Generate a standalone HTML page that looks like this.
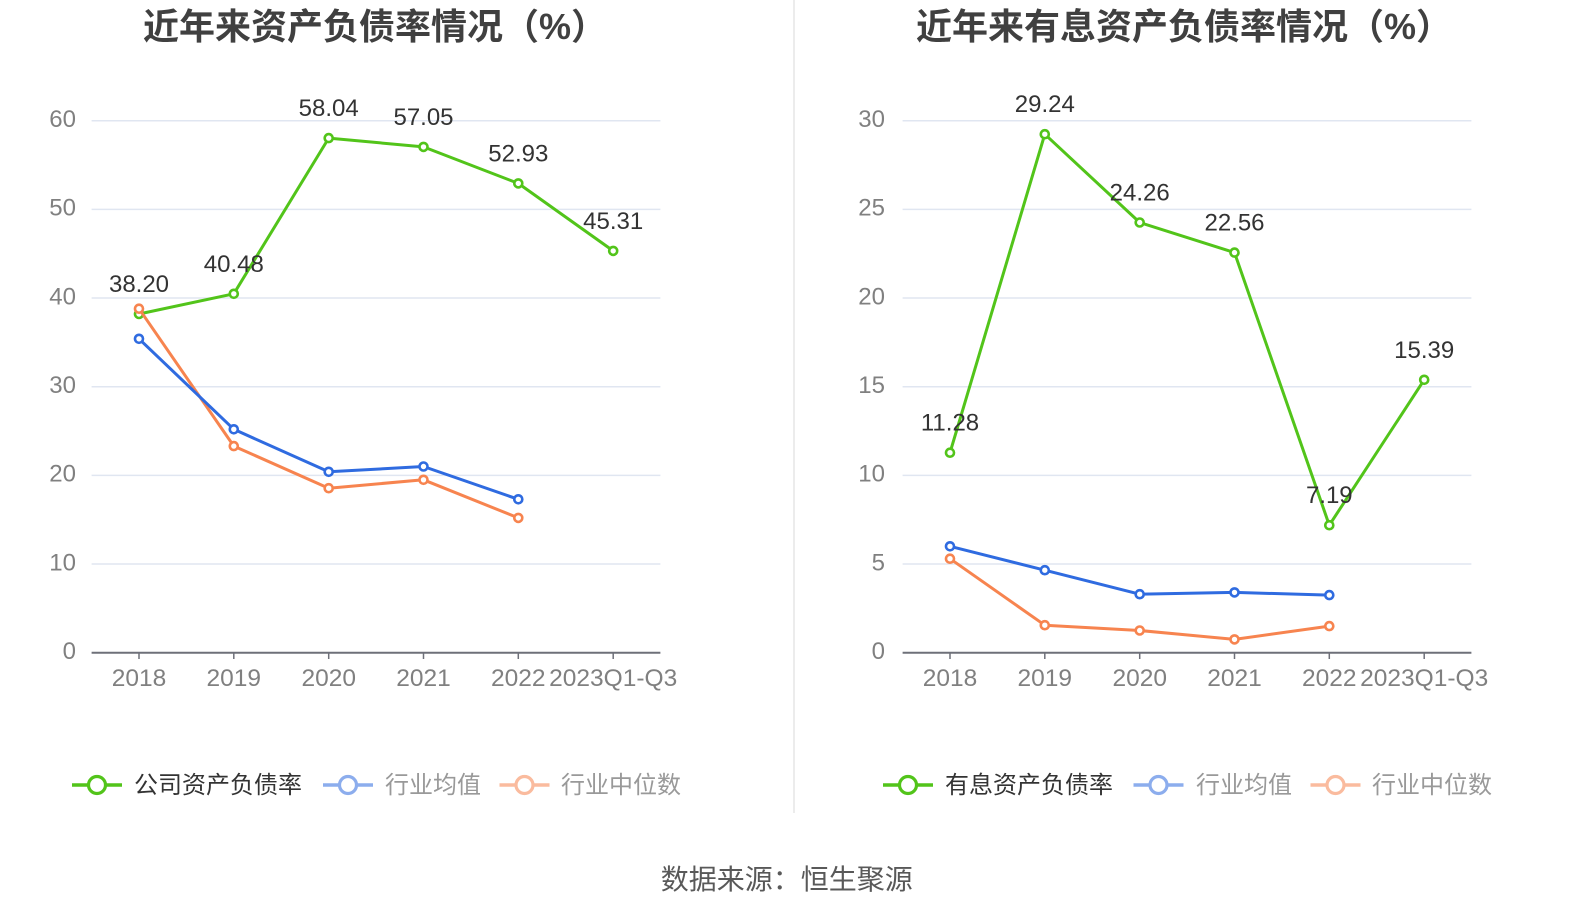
<!DOCTYPE html>
<html>
<head>
<meta charset="utf-8">
<style>
  html, body { margin: 0; padding: 0; background: #ffffff; }
  body { width: 1574px; height: 918px; overflow: hidden; }
  svg { display: block; }
  .t { font-family: "Liberation Sans", "Noto Sans CJK SC", sans-serif; font-weight: 700; font-size: 36px; fill: #404040; }
  .ax { font-family: "Liberation Sans", sans-serif; font-size: 24px; fill: #808080; }
  .axx { font-family: "Liberation Sans", sans-serif; font-size: 24.5px; fill: #808080; }
  .dl { font-family: "Liberation Sans", sans-serif; font-size: 24px; fill: #333333; }
  .lg { font-family: "Liberation Sans", "Noto Sans CJK SC", sans-serif; font-size: 24px; }
  .src { font-family: "Liberation Sans", "Noto Sans CJK SC", sans-serif; font-size: 28px; fill: #595959; }
</style>
</head>
<body>
<svg width="1574" height="918" viewBox="0 0 1574 918" xmlns="http://www.w3.org/2000/svg">
  <!-- divider -->
  <line x1="794" y1="0" x2="794" y2="813" stroke="#ececec" stroke-width="2"/>

  <!-- titles -->
  <text class="t" x="143" y="39">近年来资产负债率情况（%）</text>
  <text class="t" x="916" y="39">近年来有息资产负债率情况（%）</text>

  <!-- ============ LEFT CHART ============ -->
  <g stroke="#e0e6f1" stroke-width="1.5">
    <line x1="91.6" y1="120.7" x2="660.4" y2="120.7"/>
    <line x1="91.6" y1="209.4" x2="660.4" y2="209.4"/>
    <line x1="91.6" y1="298.0" x2="660.4" y2="298.0"/>
    <line x1="91.6" y1="386.7" x2="660.4" y2="386.7"/>
    <line x1="91.6" y1="475.4" x2="660.4" y2="475.4"/>
    <line x1="91.6" y1="564.0" x2="660.4" y2="564.0"/>
  </g>
  <line x1="91.6" y1="652.7" x2="660.4" y2="652.7" stroke="#6e7079" stroke-width="2"/>
  <g stroke="#6e7079" stroke-width="1.5">
    <line x1="139" y1="652.7" x2="139" y2="659"/>
    <line x1="233.8" y1="652.7" x2="233.8" y2="659"/>
    <line x1="328.7" y1="652.7" x2="328.7" y2="659"/>
    <line x1="423.5" y1="652.7" x2="423.5" y2="659"/>
    <line x1="518.3" y1="652.7" x2="518.3" y2="659"/>
    <line x1="613.2" y1="652.7" x2="613.2" y2="659"/>
  </g>
  <g class="ax" text-anchor="end">
    <text x="76" y="127">60</text>
    <text x="76" y="215.7">50</text>
    <text x="76" y="304.3">40</text>
    <text x="76" y="393">30</text>
    <text x="76" y="481.7">20</text>
    <text x="76" y="570.3">10</text>
    <text x="76" y="659">0</text>
  </g>
  <g class="axx" text-anchor="middle">
    <text x="139" y="686">2018</text>
    <text x="233.8" y="686">2019</text>
    <text x="328.7" y="686">2020</text>
    <text x="423.5" y="686">2021</text>
    <text x="518.3" y="686">2022</text>
    <text x="613.2" y="686">2023Q1-Q3</text>
  </g>

  <!-- left series -->
  <polyline fill="none" stroke="#52c41a" stroke-width="3" stroke-linejoin="round"
    points="139,314.0 233.8,293.8 328.7,138.1 423.5,146.9 518.3,183.4 613.2,250.9"/>
  <g fill="#fff" stroke="#52c41a" stroke-width="2.6">
    <circle cx="139" cy="314.0" r="4"/>
    <circle cx="233.8" cy="293.8" r="4"/>
    <circle cx="328.7" cy="138.1" r="4"/>
    <circle cx="423.5" cy="146.9" r="4"/>
    <circle cx="518.3" cy="183.4" r="4"/>
    <circle cx="613.2" cy="250.9" r="4"/>
  </g>
  <polyline fill="none" stroke="#f7844f" stroke-width="3" stroke-linejoin="round"
    points="139,308.7 233.8,446.1 328.7,488.2 423.5,479.8 518.3,517.9"/>
  <g fill="#fff" stroke="#f7844f" stroke-width="2.6">
    <circle cx="139" cy="308.7" r="4"/>
    <circle cx="233.8" cy="446.1" r="4"/>
    <circle cx="328.7" cy="488.2" r="4"/>
    <circle cx="423.5" cy="479.8" r="4"/>
    <circle cx="518.3" cy="517.9" r="4"/>
  </g>
  <polyline fill="none" stroke="#2f6be0" stroke-width="3" stroke-linejoin="round"
    points="139,338.8 233.8,429.3 328.7,471.8 423.5,466.5 518.3,499.3"/>
  <g fill="#fff" stroke="#2f6be0" stroke-width="2.6">
    <circle cx="139" cy="338.8" r="4"/>
    <circle cx="233.8" cy="429.3" r="4"/>
    <circle cx="328.7" cy="471.8" r="4"/>
    <circle cx="423.5" cy="466.5" r="4"/>
    <circle cx="518.3" cy="499.3" r="4"/>
  </g>
  <g class="dl" text-anchor="middle">
    <text x="139" y="292">38.20</text>
    <text x="233.8" y="271.8">40.48</text>
    <text x="328.7" y="116.1">58.04</text>
    <text x="423.5" y="124.9">57.05</text>
    <text x="518.3" y="161.4">52.93</text>
    <text x="613.2" y="228.9">45.31</text>
  </g>

  <!-- left legend -->
  <g>
    <line x1="72" y1="785" x2="122" y2="785" stroke="#52c41a" stroke-width="3.5"/>
    <circle cx="97" cy="785" r="8.5" fill="#fff" stroke="#52c41a" stroke-width="3.2"/>
    <text class="lg" x="134" y="793" fill="#333333">公司资产负债率</text>
  </g>
  <g opacity="0.55">
    <line x1="323" y1="785" x2="373" y2="785" stroke="#2f6be0" stroke-width="3.5"/>
    <circle cx="348" cy="785" r="8.5" fill="#fff" stroke="#2f6be0" stroke-width="3.2"/>
  </g>
  <text class="lg" x="385" y="793" fill="#999999">行业均值</text>
  <g opacity="0.55">
    <line x1="499.5" y1="785" x2="549.5" y2="785" stroke="#f7844f" stroke-width="3.5"/>
    <circle cx="524.5" cy="785" r="8.5" fill="#fff" stroke="#f7844f" stroke-width="3.2"/>
  </g>
  <text class="lg" x="561" y="793" fill="#999999">行业中位数</text>

  <!-- ============ RIGHT CHART ============ -->
  <g stroke="#e0e6f1" stroke-width="1.5">
    <line x1="902.6" y1="120.7" x2="1471.4" y2="120.7"/>
    <line x1="902.6" y1="209.4" x2="1471.4" y2="209.4"/>
    <line x1="902.6" y1="298.0" x2="1471.4" y2="298.0"/>
    <line x1="902.6" y1="386.7" x2="1471.4" y2="386.7"/>
    <line x1="902.6" y1="475.4" x2="1471.4" y2="475.4"/>
    <line x1="902.6" y1="564.0" x2="1471.4" y2="564.0"/>
  </g>
  <line x1="902.6" y1="652.7" x2="1471.4" y2="652.7" stroke="#6e7079" stroke-width="2"/>
  <g stroke="#6e7079" stroke-width="1.5">
    <line x1="950" y1="652.7" x2="950" y2="659"/>
    <line x1="1044.8" y1="652.7" x2="1044.8" y2="659"/>
    <line x1="1139.7" y1="652.7" x2="1139.7" y2="659"/>
    <line x1="1234.5" y1="652.7" x2="1234.5" y2="659"/>
    <line x1="1329.3" y1="652.7" x2="1329.3" y2="659"/>
    <line x1="1424.2" y1="652.7" x2="1424.2" y2="659"/>
  </g>
  <g class="ax" text-anchor="end">
    <text x="885" y="127">30</text>
    <text x="885" y="215.7">25</text>
    <text x="885" y="304.3">20</text>
    <text x="885" y="393">15</text>
    <text x="885" y="481.7">10</text>
    <text x="885" y="570.3">5</text>
    <text x="885" y="659">0</text>
  </g>
  <g class="axx" text-anchor="middle">
    <text x="950" y="686">2018</text>
    <text x="1044.8" y="686">2019</text>
    <text x="1139.7" y="686">2020</text>
    <text x="1234.5" y="686">2021</text>
    <text x="1329.3" y="686">2022</text>
    <text x="1424.2" y="686">2023Q1-Q3</text>
  </g>

  <!-- right series -->
  <polyline fill="none" stroke="#52c41a" stroke-width="3" stroke-linejoin="round"
    points="950,452.7 1044.8,134.2 1139.7,222.5 1234.5,252.6 1329.3,525.2 1424.2,379.8"/>
  <g fill="#fff" stroke="#52c41a" stroke-width="2.6">
    <circle cx="950" cy="452.7" r="4"/>
    <circle cx="1044.8" cy="134.2" r="4"/>
    <circle cx="1139.7" cy="222.5" r="4"/>
    <circle cx="1234.5" cy="252.6" r="4"/>
    <circle cx="1329.3" cy="525.2" r="4"/>
    <circle cx="1424.2" cy="379.8" r="4"/>
  </g>
  <polyline fill="none" stroke="#f7844f" stroke-width="3" stroke-linejoin="round"
    points="950,558.7 1044.8,625.2 1139.7,630.5 1234.5,639.4 1329.3,626.1"/>
  <g fill="#fff" stroke="#f7844f" stroke-width="2.6">
    <circle cx="950" cy="558.7" r="4"/>
    <circle cx="1044.8" cy="625.2" r="4"/>
    <circle cx="1139.7" cy="630.5" r="4"/>
    <circle cx="1234.5" cy="639.4" r="4"/>
    <circle cx="1329.3" cy="626.1" r="4"/>
  </g>
  <polyline fill="none" stroke="#2f6be0" stroke-width="3" stroke-linejoin="round"
    points="950,546.3 1044.8,570.2 1139.7,594.2 1234.5,592.4 1329.3,595.1"/>
  <g fill="#fff" stroke="#2f6be0" stroke-width="2.6">
    <circle cx="950" cy="546.3" r="4"/>
    <circle cx="1044.8" cy="570.2" r="4"/>
    <circle cx="1139.7" cy="594.2" r="4"/>
    <circle cx="1234.5" cy="592.4" r="4"/>
    <circle cx="1329.3" cy="595.1" r="4"/>
  </g>
  <g class="dl" text-anchor="middle">
    <text x="950" y="430.7">11.28</text>
    <text x="1044.8" y="112.2">29.24</text>
    <text x="1139.7" y="200.5">24.26</text>
    <text x="1234.5" y="230.6">22.56</text>
    <text x="1329.3" y="503.2">7.19</text>
    <text x="1424.2" y="357.8">15.39</text>
  </g>

  <!-- right legend -->
  <g>
    <line x1="883" y1="785" x2="933" y2="785" stroke="#52c41a" stroke-width="3.5"/>
    <circle cx="908" cy="785" r="8.5" fill="#fff" stroke="#52c41a" stroke-width="3.2"/>
    <text class="lg" x="945" y="793" fill="#333333">有息资产负债率</text>
  </g>
  <g opacity="0.55">
    <line x1="1133.5" y1="785" x2="1183.5" y2="785" stroke="#2f6be0" stroke-width="3.5"/>
    <circle cx="1158.5" cy="785" r="8.5" fill="#fff" stroke="#2f6be0" stroke-width="3.2"/>
  </g>
  <text class="lg" x="1196" y="793" fill="#999999">行业均值</text>
  <g opacity="0.55">
    <line x1="1310.5" y1="785" x2="1360.5" y2="785" stroke="#f7844f" stroke-width="3.5"/>
    <circle cx="1335.5" cy="785" r="8.5" fill="#fff" stroke="#f7844f" stroke-width="3.2"/>
  </g>
  <text class="lg" x="1372" y="793" fill="#999999">行业中位数</text>

  <!-- source -->
  <text class="src" x="786.7" y="889" text-anchor="middle">数据来源：恒生聚源</text>
</svg>
</body>
</html>
